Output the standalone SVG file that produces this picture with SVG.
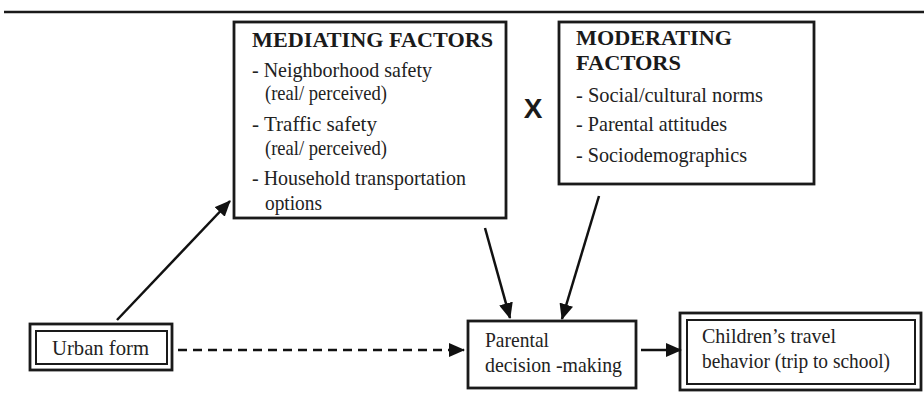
<svg xmlns="http://www.w3.org/2000/svg" width="924" height="396" viewBox="0 0 924 396">
<style>
.box{fill:#fff;stroke:#1a1a1a;stroke-width:2.8}
.inner{fill:none;stroke:#1a1a1a;stroke-width:2}
.t{font-family:"Liberation Serif","Times New Roman",serif;font-size:22px;fill:#222}
.h{font-family:"Liberation Serif","Times New Roman",serif;font-size:21px;font-weight:bold;fill:#1a1a1a}
.x{font-family:"Liberation Sans",Arial,sans-serif;font-size:28px;font-weight:bold;fill:#1a1a1a}
.ln{stroke:#111;stroke-width:2.5;fill:none}
</style>
<defs>
<marker id="ah" markerUnits="userSpaceOnUse" markerWidth="16" markerHeight="14" refX="15" refY="7" orient="auto">
<path d="M0,0 L16,7 L0,14 Z" fill="#111"/>
</marker>
</defs>
<rect width="924" height="396" fill="#fff"/>
<line x1="4" y1="12" x2="924" y2="12" stroke="#1a1a1a" stroke-width="2.5"/>
<g id="mediating">
<rect class="box" x="234" y="22" width="272" height="196"/>
<text class="h" x="252" y="47" textLength="241" lengthAdjust="spacingAndGlyphs">MEDIATING FACTORS</text>
<text class="t" x="252" y="77" textLength="180" lengthAdjust="spacingAndGlyphs">- Neighborhood safety</text>
<text class="t" x="265" y="100" textLength="122" lengthAdjust="spacingAndGlyphs">(real/ perceived)</text>
<text class="t" x="252" y="131" textLength="125" lengthAdjust="spacingAndGlyphs">- Traffic safety</text>
<text class="t" x="265" y="155" textLength="122" lengthAdjust="spacingAndGlyphs">(real/ perceived)</text>
<text class="t" x="252" y="185" textLength="214" lengthAdjust="spacingAndGlyphs">- Household transportation</text>
<text class="t" x="265" y="210" textLength="57" lengthAdjust="spacingAndGlyphs">options</text>
</g>
<g id="x-sign">
<text class="x" x="533" y="118" text-anchor="middle">X</text>
</g>
<g id="moderating">
<rect class="box" x="559" y="22" width="255" height="162"/>
<text class="h" x="576" y="45" textLength="156" lengthAdjust="spacingAndGlyphs">MODERATING</text>
<text class="h" x="576" y="70" textLength="105" lengthAdjust="spacingAndGlyphs">FACTORS</text>
<text class="t" x="576" y="102" textLength="187" lengthAdjust="spacingAndGlyphs">- Social/cultural norms</text>
<text class="t" x="576" y="131" textLength="151" lengthAdjust="spacingAndGlyphs">- Parental attitudes</text>
<text class="t" x="576" y="162" textLength="171" lengthAdjust="spacingAndGlyphs">- Sociodemographics</text>
</g>
<g id="urban-form">
<rect class="box" x="30" y="324" width="142" height="46"/>
<rect class="inner" x="36" y="331" width="131" height="33"/>
<text class="t" x="52" y="355" textLength="97" lengthAdjust="spacingAndGlyphs">Urban form</text>
</g>
<g id="parental">
<rect class="box" x="468" y="321" width="168" height="67"/>
<text class="t" x="485" y="347" textLength="64" lengthAdjust="spacingAndGlyphs">Parental</text>
<text class="t" x="485" y="372" textLength="137" lengthAdjust="spacingAndGlyphs">decision -making</text>
</g>
<g id="children">
<rect class="box" x="680" y="313" width="241" height="77"/>
<rect class="inner" x="687" y="320" width="228" height="64"/>
<text class="t" x="702" y="343" textLength="134" lengthAdjust="spacingAndGlyphs">Children’s travel</text>
<text class="t" x="702" y="368" textLength="188" lengthAdjust="spacingAndGlyphs">behavior (trip to school)</text>
</g>
<g id="connectors">
<line class="ln" x1="117" y1="320" x2="230" y2="201" marker-end="url(#ah)"/>
<line class="ln" x1="178" y1="350" x2="464" y2="350" stroke-dasharray="9,6" marker-end="url(#ah)"/>
<line class="ln" x1="485" y1="228" x2="510" y2="318" marker-end="url(#ah)"/>
<line class="ln" x1="599" y1="196" x2="562" y2="319" marker-end="url(#ah)"/>
<line class="ln" x1="641" y1="350" x2="681" y2="350" marker-end="url(#ah)"/>
</g>
</svg>
